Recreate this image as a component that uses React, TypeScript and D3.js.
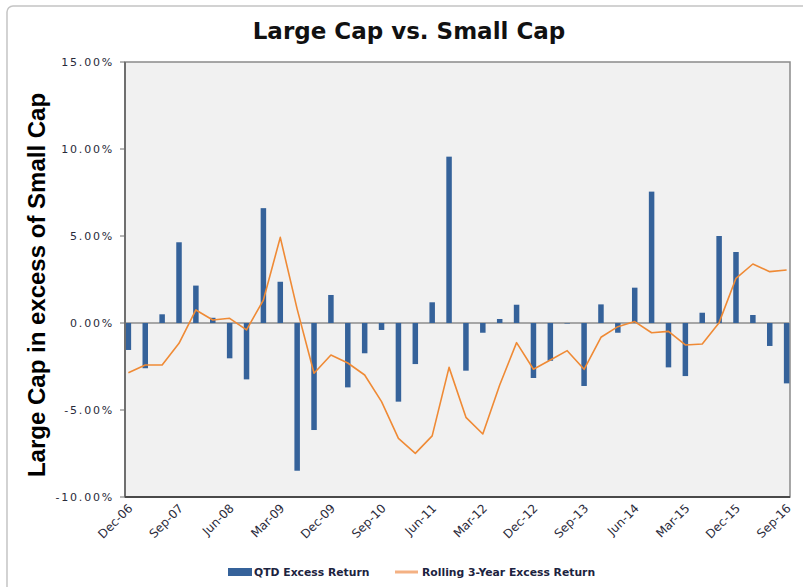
import React from "react";
import * as d3 from "d3";

const quarters = [
  "Dec-06","Mar-07","Jun-07","Sep-07","Dec-07","Mar-08","Jun-08","Sep-08","Dec-08","Mar-09",
  "Jun-09","Sep-09","Dec-09","Mar-10","Jun-10","Sep-10","Dec-10","Mar-11","Jun-11","Sep-11",
  "Dec-11","Mar-12","Jun-12","Sep-12","Dec-12","Mar-13","Jun-13","Sep-13","Dec-13","Mar-14",
  "Jun-14","Sep-14","Dec-14","Mar-15","Jun-15","Sep-15","Dec-15","Mar-16","Jun-16","Sep-16",
];

const qtdExcess = [
  -1.55, -2.6, 0.5, 4.64, 2.15, 0.3, -2.03, -3.24, 6.6, 2.37,
  -8.49, -6.15, 1.61, -3.7, -1.74, -0.4, -4.52, -2.36, 1.19, 9.56,
  -2.74, -0.56, 0.23, 1.05, -3.16, -2.17, -0.03, -3.62, 1.07, -0.56,
  2.03, 7.55, -2.55, -3.05, 0.59, 5.0, 4.08, 0.46, -1.32, -3.47,
];

const rolling3Y = [
  -2.86, -2.41, -2.41, -1.17, 0.75, 0.17, 0.27, -0.4, 1.32, 4.92,
  0.8, -2.89, -1.84, -2.3, -2.99, -4.52, -6.63, -7.49, -6.49, -2.55,
  -5.42, -6.38, -3.56, -1.13, -2.66, -2.13, -1.59, -2.66, -0.82, -0.21,
  0.08, -0.56, -0.48, -1.26, -1.21, 0.02, 2.57, 3.39, 2.95, 3.05,
];

const xTickLabels = [
  "Dec-06","Sep-07","Jun-08","Mar-09","Dec-09","Sep-10","Jun-11",
  "Mar-12","Dec-12","Sep-13","Jun-14","Mar-15","Dec-15","Sep-16",
];

const yTicks = [15, 10, 5, 0, -5, -10];

const title = "Large Cap vs. Small Cap";
const yTitle = "Large Cap in excess of Small Cap";
const seriesNames = ["QTD Excess Return", "Rolling 3-Year Excess Return"];

const W = 803;
const H = 587;
const plot = { left: 125, right: 790, top: 62, bottom: 497 };

export default function App() {
  const x = d3
    .scalePoint<string>()
    .domain(quarters)
    .range([plot.left, plot.right])
    .padding(0.2);
  const y = d3.scaleLinear().domain([-10, 15]).range([plot.bottom, plot.top]);
  const barW = 5.5;
  const line = d3
    .line<number>()
    .x((_, i) => x(quarters[i]) as number)
    .y((d) => y(d));

  const fmt = (v: number) => v.toFixed(2) + "%";

  return (
    <svg
      width={W}
      height={H}
      style={{ position: "absolute", left: 0, top: 0, background: "#fff" }}
    >
      <rect x={7} y={6} width={W + 10} height={H + 10} rx={6} fill="#fff" stroke="#c4c4c4" strokeWidth={1.5} />
      <text
        x={409}
        y={38.5}
        textAnchor="middle"
        fontFamily="DejaVu Sans, Verdana, sans-serif"
        fontWeight="bold"
        fontSize={23}
        fill="#111"
      >
        {title}
      </text>
      <rect
        x={plot.left}
        y={plot.top}
        width={plot.right - plot.left}
        height={plot.bottom - plot.top}
        fill="#f1f1f1"
        stroke="#8a8a8a"
        strokeWidth={1.5}
      />
      {/* zero line */}
      <line x1={plot.left} x2={plot.right} y1={y(0)} y2={y(0)} stroke="#a6a6a6" strokeWidth={2} />
      {/* bars */}
      {qtdExcess.map((v, i) => (
        <rect
          key={i}
          x={(x(quarters[i]) as number) - barW / 2}
          y={Math.min(y(v), y(0))}
          width={barW}
          height={Math.abs(y(v) - y(0))}
          fill="#35629a"
        />
      ))}
      <path d={line(rolling3Y) || ""} fill="none" stroke="#ef8a35" strokeWidth={1.6} strokeLinejoin="round" />
      {/* axes */}
      <line x1={plot.left} x2={plot.left} y1={plot.top} y2={plot.bottom} stroke="#6f6f6f" strokeWidth={2} />
      <line x1={plot.left} x2={plot.right} y1={plot.bottom} y2={plot.bottom} stroke="#4a4a4a" strokeWidth={2} />
      {yTicks.map((t) => (
        <g key={t}>
          <line x1={plot.left - 5} x2={plot.left} y1={y(t)} y2={y(t)} stroke="#6f6f6f" strokeWidth={1} />
          <text
            x={114}
            y={y(t) + 4}
            textAnchor="end"
            fontFamily="DejaVu Sans, Verdana, sans-serif"
            fontSize={11}
            letterSpacing={1.8}
            fill="#2a2a3a"
          >
            {fmt(t)}
          </text>
        </g>
      ))}
      {xTickLabels.map((lab) => {
        const px = x(lab) as number;
        return (
          <text
            key={lab}
            transform={`translate(${px + 5},${plot.bottom + 12}) rotate(-45)`}
            textAnchor="end"
            fontFamily="DejaVu Sans, Verdana, sans-serif"
            fontSize={12}
            fill="#2a2a3a"
          >
            {lab}
          </text>
        );
      })}
      <text
        transform={`translate(45,${285}) rotate(-90)`}
        textAnchor="middle"
        fontFamily="Liberation Sans, Arial, sans-serif"
        fontWeight="bold"
        fontSize={24}
        fill="#000"
      >
        {yTitle}
      </text>
      {/* legend */}
      <rect x={228} y={568} width={24} height={8} fill="#35629a" />
      <text x={254} y={576} fontFamily="DejaVu Sans, Verdana, sans-serif" fontWeight="bold" fontSize={10.8} fill="#1c2340">
        {seriesNames[0]}
      </text>
      <line x1={395} x2={418} y1={572} y2={572} stroke="#f4b183" strokeWidth={3} />
      <text x={422} y={576} fontFamily="DejaVu Sans, Verdana, sans-serif" fontWeight="bold" fontSize={10.8} fill="#1c2340">
        {seriesNames[1]}
      </text>
    </svg>
  );
}
